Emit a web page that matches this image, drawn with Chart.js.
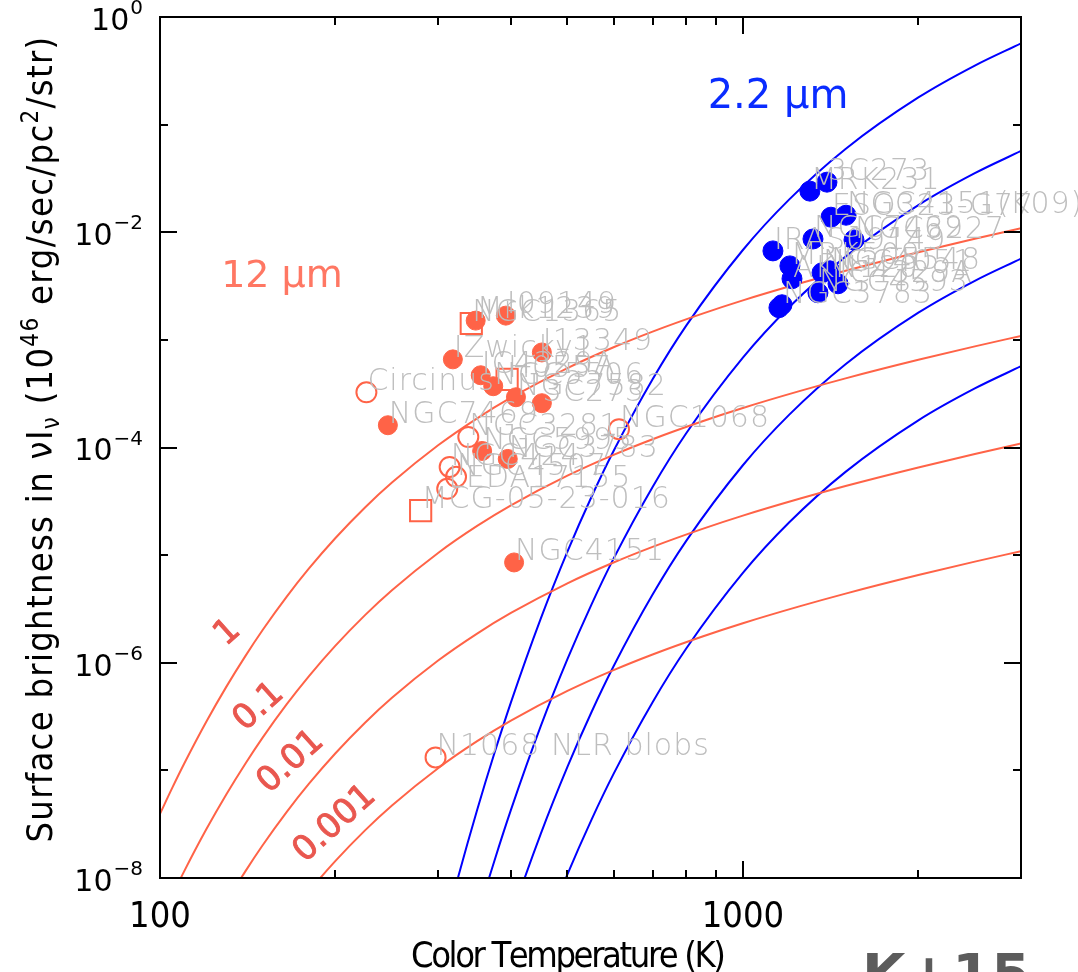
<!DOCTYPE html>
<html>
<head>
<meta charset="utf-8">
<script src="https://cdn.jsdelivr.net/npm/chart.js@4.4.1/dist/chart.umd.min.js"></script>
<style>
  html, body { margin: 0; padding: 0; background: #ffffff; }
  #wrap { width: 1078px; height: 972px; position: relative; overflow: hidden; }
</style>
</head>
<body>
<div id="wrap"><canvas id="c" width="1078" height="972"></canvas></div>
<script>
// Blackbody surface-brightness curves (nu I_nu, 10^46 erg/s/pc^2/sr) vs colour temperature
const tempMidIr = [100, 105, 110, 120, 130, 140, 150, 165, 180, 200, 225, 250, 300, 350, 400, 500, 600, 700, 850, 1000, 1250, 1500, 2000, 2500, 3000];
const midIrF1    = [3.94e-8, 6.91e-8, 1.152e-7, 2.817e-7, 6.00e-7, 1.147e-6, 2.015e-6, 4.12e-6, 7.48e-6, 1.442e-5, 2.786e-5, 4.72e-5, 1.048e-4, 1.867e-4, 2.90e-4, 5.47e-4, 8.54e-4, 1.194e-3, 1.745e-3, 2.33e-3, 3.34e-3, 4.39e-3, 6.53e-3, 8.70e-3, 1.089e-2];
const midIrF01   = [3.94e-9, 6.91e-9, 1.152e-8, 2.817e-8, 6.00e-8, 1.147e-7, 2.015e-7, 4.12e-7, 7.48e-7, 1.442e-6, 2.786e-6, 4.72e-6, 1.048e-5, 1.867e-5, 2.90e-5, 5.47e-5, 8.54e-5, 1.194e-4, 1.745e-4, 2.33e-4, 3.34e-4, 4.39e-4, 6.53e-4, 8.70e-4, 1.089e-3];
const midIrF001  = [3.94e-10, 6.91e-10, 1.152e-9, 2.817e-9, 6.00e-9, 1.147e-8, 2.015e-8, 4.12e-8, 7.48e-8, 1.442e-7, 2.786e-7, 4.72e-7, 1.048e-6, 1.867e-6, 2.90e-6, 5.47e-6, 8.54e-6, 1.194e-5, 1.745e-5, 2.33e-5, 3.34e-5, 4.39e-5, 6.53e-5, 8.70e-5, 1.089e-4];
const midIrF0001 = [3.94e-11, 6.91e-11, 1.152e-10, 2.817e-10, 6.00e-10, 1.147e-9, 2.015e-9, 4.12e-9, 7.48e-9, 1.442e-8, 2.786e-8, 4.72e-8, 1.048e-7, 1.867e-7, 2.90e-7, 5.47e-7, 8.54e-7, 1.194e-6, 1.745e-6, 2.33e-6, 3.34e-6, 4.39e-6, 6.53e-6, 8.70e-6, 1.089e-5];

const tempNearIr = [300, 325, 350, 375, 400, 450, 500, 550, 600, 700, 800, 1000, 1200, 1500, 2000, 2500, 3000];
const nearIrF1    = [1.99e-9, 1.039e-8, 4.29e-8, 1.464e-7, 4.29e-7, 2.575e-6, 1.079e-5, 3.487e-5, 9.27e-5, 4.30e-4, 1.363e-3, 6.84e-3, 2.009e-2, 5.94e-2, 0.1789, 0.354, 0.569];
const nearIrF01   = [1.99e-10, 1.039e-9, 4.29e-9, 1.464e-8, 4.29e-8, 2.575e-7, 1.079e-6, 3.487e-6, 9.27e-6, 4.30e-5, 1.363e-4, 6.84e-4, 2.009e-3, 5.94e-3, 1.789e-2, 3.54e-2, 5.69e-2];
const nearIrF001  = [1.99e-11, 1.039e-10, 4.29e-10, 1.464e-9, 4.29e-9, 2.575e-8, 1.079e-7, 3.487e-7, 9.27e-7, 4.30e-6, 1.363e-5, 6.84e-5, 2.009e-4, 5.94e-4, 1.789e-3, 3.54e-3, 5.69e-3];
const nearIrF0001 = [1.99e-12, 1.039e-11, 4.29e-11, 1.464e-10, 4.29e-10, 2.575e-9, 1.079e-8, 3.487e-8, 9.27e-8, 4.30e-7, 1.363e-6, 6.84e-6, 2.009e-5, 5.94e-5, 1.789e-4, 3.54e-4, 5.69e-4];

// 12 micron sources: filled circles
const midFilledNames = ["Mrk1239", "I09149", "IZwicky1", "I13349", "IC4329A", "NGC5506", "NGC7582", "3C273", "NGC7469", "NGC5995", "NGC3783", "NGC4151"];
const midFilledTemp  = [348, 392, 318, 452, 355, 373, 408, 452, 246, 357, 395, 405];
const midFilledSB    = [1.51e-3, 1.68e-3, 6.59e-4, 7.64e-4, 4.69e-4, 3.71e-4, 2.93e-4, 2.58e-4, 1.61e-4, 9.29e-5, 7.83e-5, 8.55e-6];
// 12 micron sources: open circles
const midOpenNames = ["Circinus", "NGC3281", "NGC1068", "NGC424", "NGC4507", "LEDA17155", "N1068 NLR blobs"];
const midOpenTemp  = [226, 338, 613, 314, 322, 311, 297];
const midOpenSB    = [3.26e-4, 1.25e-4, 1.48e-4, 6.60e-5, 5.34e-5, 4.13e-5, 1.32e-7];
// 12 micron sources: open squares
const midSquareNames = ["NGC1365", "H0557", "MCG-05-23-016"];
const midSquareTemp  = [342, 394, 280];
const midSquareSB    = [1.42e-3, 4.30e-4, 2.59e-5];
// 2.2 micron sources
const nearNames = ["3C273", "MRK231", "ESO323-G77", "NGC4151(K09)", "NGC7469", "NGC3227", "IRAS09149", "MRK509", "AKN120", "NGC4051", "NGC5548", "IC4329A", "NGC4593", "NGC3783", ""];
const nearTemp  = [1394, 1303, 1416, 1503, 1319, 1551, 1126, 1204, 1214, 1367, 1411, 1456, 1345, 1167, 1153];
const nearSB    = [2.92e-2, 2.41e-2, 1.38e-2, 1.44e-2, 8.66e-3, 8.48e-3, 6.71e-3, 4.87e-3, 3.70e-3, 4.20e-3, 4.38e-3, 3.32e-3, 2.74e-3, 2.12e-3, 1.99e-3];

// axis ticks
const xTickValues = [100, 200, 300, 400, 500, 600, 700, 800, 900, 1000, 2000, 3000];
const xLabelValues = [100, 1000];
const yTickExponents = [0, -1, -2, -3, -4, -5, -6, -7, -8];
const yLabelExponents = [0, -2, -4, -6, -8];
const curveFactors = ["1", "0.1", "0.01", "0.001"];

const RED = '#ff6347';
const BLUE = '#0000ff';

const pts = (xs, ys) => xs.map((t, i) => ({ x: t, y: ys[i] }));
const curve = (xs, ys, color) => ({
  type: 'line', data: pts(xs, ys), borderColor: color, borderWidth: 2,
  pointRadius: 0, fill: false, cubicInterpolationMode: 'monotone', order: 5
});

const datasets = [
  { type: 'scatter', data: pts(nearTemp, nearSB), pointStyle: 'circle', pointRadius: 10,
    backgroundColor: BLUE, borderColor: BLUE, borderWidth: 1, order: 1 },
  { type: 'scatter', data: pts(midFilledTemp, midFilledSB), pointStyle: 'circle', pointRadius: 9.5,
    backgroundColor: RED, borderColor: RED, borderWidth: 1, order: 1 },
  { type: 'scatter', data: pts(midOpenTemp, midOpenSB), pointStyle: 'circle', pointRadius: 10,
    backgroundColor: 'rgba(0,0,0,0)', borderColor: RED, borderWidth: 2, order: 1 },
  { type: 'scatter', data: pts(midSquareTemp, midSquareSB), pointStyle: 'rect', pointRadius: 15,
    backgroundColor: 'rgba(0,0,0,0)', borderColor: RED, borderWidth: 2, order: 1 },
  curve(tempMidIr, midIrF1, RED),
  curve(tempMidIr, midIrF01, RED),
  curve(tempMidIr, midIrF001, RED),
  curve(tempMidIr, midIrF0001, RED),
  curve(tempNearIr, nearIrF1, BLUE),
  curve(tempNearIr, nearIrF01, BLUE),
  curve(tempNearIr, nearIrF001, BLUE),
  curve(tempNearIr, nearIrF0001, BLUE)
];

const NARROW = '"Liberation Sans Narrow", "DejaVu Sans Condensed", "Liberation Sans", sans-serif';
const SANS = '"DejaVu Sans", "Liberation Sans", sans-serif';

// draw a run of text pieces (normal / raised / lowered), centred on cx,cy, rotated by rot
function drawRich(ctx, segs, cx, cy, rot, family, targetLen) {
  ctx.save();
  ctx.translate(cx, cy);
  ctx.rotate(rot);
  ctx.textAlign = 'left';
  ctx.textBaseline = 'alphabetic';
  let total = 0, chars = 0;
  segs.forEach(s => {
    ctx.font = s.size + 'px ' + family;
    s.w = ctx.measureText(s.t).width;
    total += s.w;
    chars += s.t.length;
  });
  const gap = targetLen ? (targetLen - total) / Math.max(1, chars - 1) : 0;
  const full = total + gap * (chars - 1);
  let px = -full / 2;
  segs.forEach(s => {
    ctx.font = s.size + 'px ' + family;
    for (const ch of s.t) {
      ctx.fillText(ch, px, s.dy || 0);
      px += ctx.measureText(ch).width + gap;
    }
  });
  ctx.restore();
}

const frame = {
  id: 'frame',
  afterDatasetsDraw(chart) {
    const { ctx, chartArea: a, scales: { x, y } } = chart;
    ctx.save();

    // source names
    ctx.fillStyle = '#bebebe';
    ctx.font = '200 30px ' + SANS;
    ctx.letterSpacing = '1px';
    ctx.textAlign = 'left';
    ctx.textBaseline = 'middle';
    const groups = [
      [midFilledNames, midFilledTemp, midFilledSB],
      [midOpenNames, midOpenTemp, midOpenSB],
      [midSquareNames, midSquareTemp, midSquareSB],
      [nearNames, nearTemp, nearSB]
    ];
    groups.forEach(([n, t, v]) => n.forEach((name, i) => {
      if (!name) return;
      ctx.fillText(name, x.getPixelForValue(t[i]) + 1, y.getPixelForValue(v[i]) - 10);
    }));
    ctx.letterSpacing = '0px';

    // band labels
    ctx.textAlign = 'center';
    ctx.textBaseline = 'alphabetic';
    ctx.fillStyle = '#ff7763';
    ctx.font = '38px ' + SANS;
    ctx.fillText('12 \u00b5m', 282, 287);
    ctx.fillStyle = '#0a2cff';
    ctx.font = '40px ' + SANS;
    ctx.fillText('2.2 \u00b5m', 778, 108);

    // covering-factor labels along the 12 micron curves
    const facPos = [[228, 633], [259, 707], [291, 762], [335, 824]];
    ctx.fillStyle = '#e9574f';
    ctx.strokeStyle = '#e9574f';
    ctx.lineWidth = 0.9;
    ctx.font = '34px ' + SANS;
    ctx.textBaseline = 'middle';
    curveFactors.forEach((f, i) => {
      ctx.save();
      ctx.translate(facPos[i][0], facPos[i][1]);
      ctx.rotate(-42 * Math.PI / 180);
      ctx.fillText(f, 0, 0);
      ctx.strokeText(f, 0, 0);
      ctx.restore();
    });

    // frame and inward ticks on all four sides
    ctx.strokeStyle = '#000';
    ctx.lineWidth = 2;
    ctx.strokeRect(a.left, a.top, a.right - a.left, a.bottom - a.top);
    ctx.beginPath();
    xTickValues.forEach(v => {
      const px = Math.round(x.getPixelForValue(v));
      const len = xLabelValues.includes(v) ? 17 : 8;
      ctx.moveTo(px, a.bottom); ctx.lineTo(px, a.bottom - len);
      ctx.moveTo(px, a.top); ctx.lineTo(px, a.top + len);
    });
    yTickExponents.forEach(e => {
      const py = Math.round(y.getPixelForValue(Math.pow(10, e)));
      const len = yLabelExponents.includes(e) ? 17 : 8;
      ctx.moveTo(a.left, py); ctx.lineTo(a.left + len, py);
      ctx.moveTo(a.right, py); ctx.lineTo(a.right - len, py);
    });
    ctx.stroke();

    // tick labels
    ctx.fillStyle = '#000';
    ctx.textBaseline = 'middle';
    ctx.textAlign = 'center';
    ctx.font = '36px ' + NARROW;
    xLabelValues.forEach(v => ctx.fillText(String(v), x.getPixelForValue(v), 918));
    yLabelExponents.forEach(e => {
      const py = y.getPixelForValue(Math.pow(10, e));
      const sup = e === 0 ? '0' : '\u2212' + String(-e);
      ctx.font = '20px ' + SANS;
      ctx.textAlign = 'right';
      const supW = ctx.measureText(sup).width;
      ctx.fillText(sup, 143, py - 8);
      ctx.font = '30px ' + SANS;
      ctx.fillText('10', 143 - supW - 1, py + 5);
    });

    // axis titles
    ctx.fillStyle = '#000';
    drawRich(ctx, [{ t: 'Color Temperature (K)', size: 36 }], 565, 967, 0, NARROW, 308);
    drawRich(ctx, [
      { t: 'Surface brightness in ', size: 36 },
      { t: '\u03bdI', size: 36 },
      { t: '\u03bd', size: 24, dy: 7 },
      { t: ' (10', size: 36 },
      { t: '46', size: 24, dy: -14 },
      { t: ' erg/sec/pc', size: 36 },
      { t: '2', size: 24, dy: -14 },
      { t: '/str)', size: 36 }
    ], 52, 440, -Math.PI / 2, NARROW, 805);

    // corner tag
    ctx.fillStyle = '#5c5c5c';
    ctx.font = 'bold 56px ' + SANS;
    ctx.textAlign = 'left';
    ctx.textBaseline = 'alphabetic';
    ctx.fillText('K+15', 862, 993);

    ctx.restore();
  }
};

new Chart(document.getElementById('c'), {
  type: 'scatter',
  data: { datasets },
  options: {
    responsive: false,
    animation: false,
    devicePixelRatio: 1,
    events: [],
    layout: { padding: { top: 13, right: 57, left: 0, bottom: 0 } },
    plugins: { legend: { display: false }, tooltip: { enabled: false } },
    scales: {
      x: {
        type: 'logarithmic', min: 100, max: 3000,
        grid: { display: false }, border: { display: false }, ticks: { display: false },
        afterFit(s) { s.height = 94; }
      },
      y: {
        type: 'logarithmic', min: 1e-8, max: 1,
        grid: { display: false }, border: { display: false }, ticks: { display: false },
        afterFit(s) { s.width = 160; }
      }
    }
  },
  plugins: [frame]
});
</script>
</body>
</html>
